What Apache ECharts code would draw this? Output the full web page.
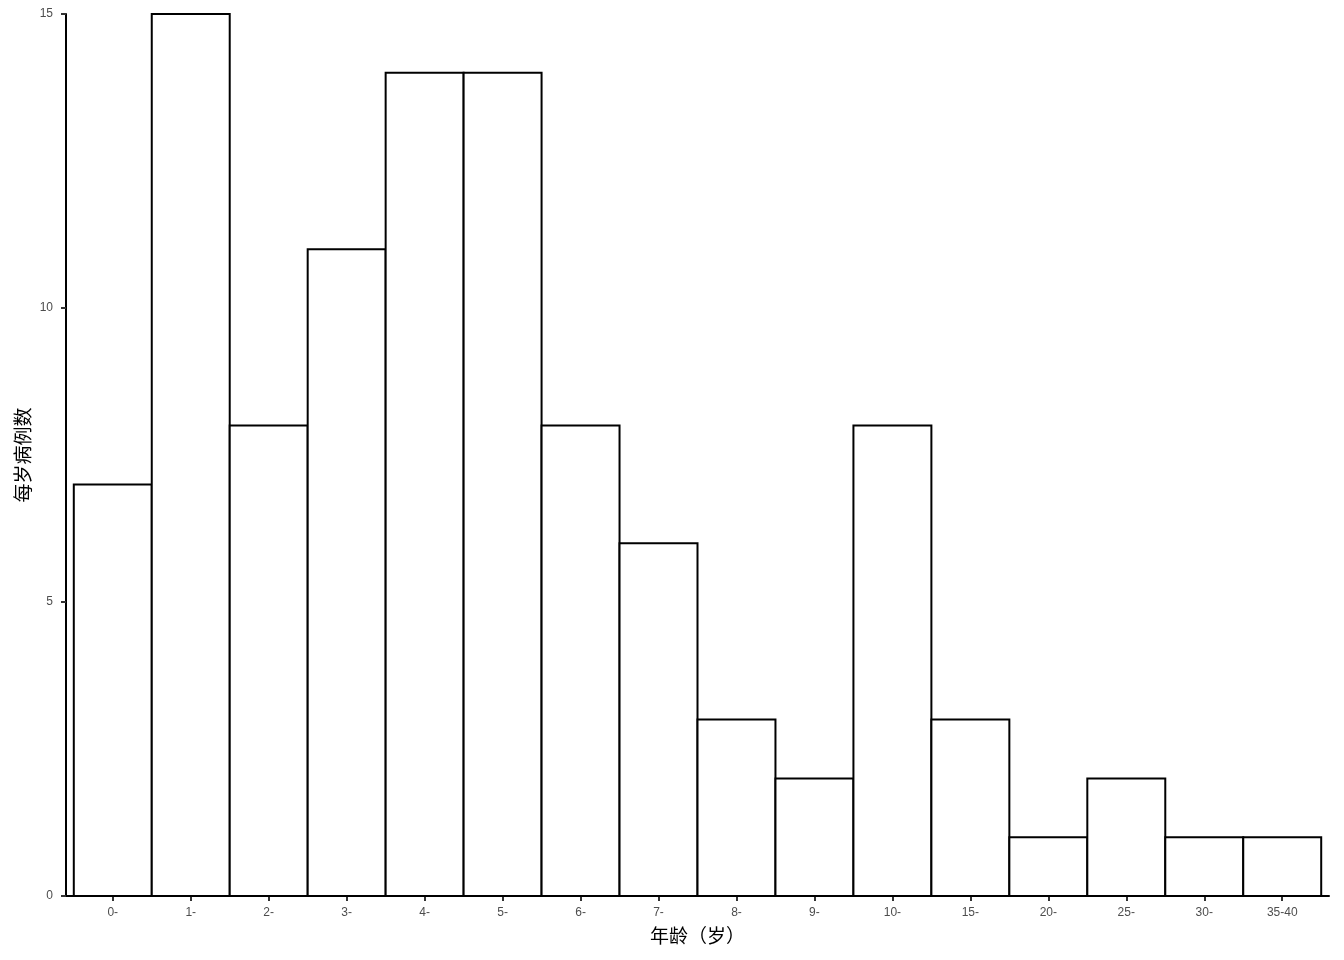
<!DOCTYPE html>
<html>
<head>
<meta charset="utf-8">
<script src="https://cdn.jsdelivr.net/npm/echarts@6/dist/echarts.min.js"></script>
<style>
  html, body { margin: 0; padding: 0; background: #fff; }
  #chart { width: 1344px; height: 960px; }
</style>
</head>
<body>
<div id="chart"></div>
<script>
const ageGroups = ["0-", "1-", "2-", "3-", "4-", "5-", "6-", "7-", "8-", "9-", "10-", "15-", "20-", "25-", "30-", "35-40"]
const casesPerYear = [7, 15, 8, 11, 14, 14, 8, 6, 3, 2, 8, 3, 1, 2, 1, 1]
const yTicks = [0, 5, 10, 15]

const tickPositions = ageGroups.map((_, i) => i)
const barData = casesPerYear.map((v, i) => [i, v])

const font = "'Liberation Sans', 'Noto Sans CJK SC', sans-serif"
const cjkFont = "'Noto Sans CJK SC', sans-serif"
const myChart = echarts.init(document.getElementById("chart"))

// the TC font centres full-width parentheses in their box, like the original
const parenStyle = {fontSize: 19, fontFamily: "'Noto Sans CJK TC', sans-serif", color: "#000"}

myChart.setOption({
  animation: false,
  grid: {
    left: 66,
    top: 14,
    width: 1263,
    height: 882,
  },
  xAxis: {
    type: "value",
    // ggplot-style discrete padding of 0.6 on each side
    min: -0.6,
    max: 15.6,
    name: "年龄{p|（}岁{p|）}",
    nameLocation: "middle",
    nameGap: 30,
    nameTextStyle: {
      color: "#000",
      fontSize: 19,
      fontFamily: cjkFont,
      rich: {p: parenStyle},
    },
    axisLine: {
      onZero: false,
      lineStyle: {color: "#000", width: 2},
    },
    axisTick: {
      customValues: tickPositions,
      length: 5,
      lineStyle: {color: "#333", width: 2},
    },
    axisLabel: {
      customValues: tickPositions,
      formatter: (v) => ageGroups[Math.round(v)] ?? "",
      color: "#4d4d4d",
      fontSize: 12,
      fontFamily: font,
      margin: 11,
    },
    splitLine: {show: false},
  },
  yAxis: {
    type: "value",
    min: 0,
    max: 15,
    interval: 5,
    name: "每岁病例数",
    nameLocation: "middle",
    nameMoveOverlap: false,
    nameGap: 34,
    nameTextStyle: {
      color: "#000",
      fontSize: 19,
      fontFamily: cjkFont,
    },
    axisLine: {
      show: true,
      onZero: false,
      lineStyle: {color: "#000", width: 2},
    },
    axisTick: {
      show: true,
      length: 5,
      lineStyle: {color: "#333", width: 2},
    },
    axisLabel: {
      customValues: yTicks,
      color: "#4d4d4d",
      fontSize: 12,
      fontFamily: font,
      margin: 13,
    },
    splitLine: {show: false},
  },
  series: [
    {
      type: "custom",
      data: barData,
      renderItem: (params, api) => {
        const x = api.value(0)
        const y = api.value(1)
        const p0 = api.coord([x - 0.5, y])
        const p1 = api.coord([x + 0.5, 0])
        return {
          type: "rect",
          shape: {x: p0[0], y: p0[1], width: p1[0] - p0[0], height: p1[1] - p0[1]},
          style: {fill: "#fff", stroke: "#000", lineWidth: 2},
        }
      },
    },
  ],
})
</script>
</body>
</html>
